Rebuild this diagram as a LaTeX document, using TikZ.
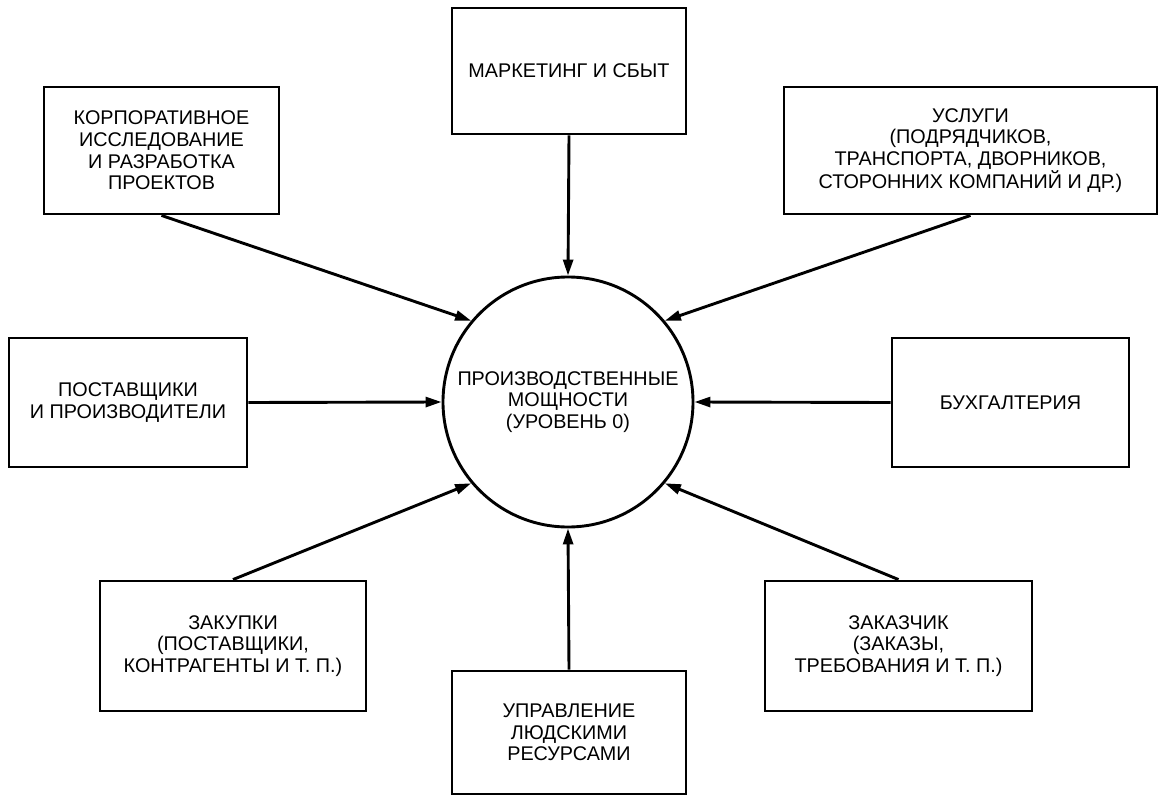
\documentclass[tikz,border=0pt]{standalone}
\usepackage{fontspec}
\setmainfont{Liberation Sans}
\usetikzlibrary{arrows.meta}
\begin{document}
\begin{tikzpicture}[x=1pt,y=-1pt,
  box/.style={draw,line width=2.9pt,rectangle,inner sep=0pt,align=center,
    font=\fontsize{19.8}{21.7}\selectfont},
  hub/.style={draw,line width=2.9pt,circle,inner sep=0pt,minimum size=250pt,align=center,
    font=\fontsize{19.8}{21.7}\selectfont},
  flow/.style={line width=2.9pt,-{Triangle[length=16pt,width=10pt]}}]
\useasboundingbox (0,0) rectangle (1161,797);
\node[hub] (c) at (568,402) {ПРОИЗВОДСТВЕННЫЕ\\МОЩНОСТИ\\(УРОВЕНЬ 0)};
\node[box,minimum width=234pt,minimum height=126pt] (mk) at (569,71) {МАРКЕТИНГ И СБЫТ};
\node[box,minimum width=235pt,minimum height=127pt] (rd) at (161.5,150.5) {КОРПОРАТИВНОЕ\\ИССЛЕДОВАНИЕ\\И РАЗРАБОТКА\\ПРОЕКТОВ};
\node[box,minimum width=373pt,minimum height=127pt] (sv) at (970.5,150.5) {УСЛУГИ\\(ПОДРЯДЧИКОВ,\\ТРАНСПОРТА, ДВОРНИКОВ,\\СТОРОННИХ КОМПАНИЙ И ДР.)};
\node[box,minimum width=238pt,minimum height=129pt] (sup) at (128,402.5) {ПОСТАВЩИКИ\\И ПРОИЗВОДИТЕЛИ};
\node[box,minimum width=237pt,minimum height=129pt] (acc) at (1010.5,402.5) {БУХГАЛТЕРИЯ};
\node[box,minimum width=266pt,minimum height=130pt] (pur) at (233,646) {ЗАКУПКИ\\(ПОСТАВЩИКИ,\\КОНТРАГЕНТЫ И Т. П.)};
\node[box,minimum width=267pt,minimum height=130pt] (cu) at (898.5,646) {ЗАКАЗЧИК\\(ЗАКАЗЫ,\\ТРЕБОВАНИЯ И Т. П.)};
\node[box,minimum width=234pt,minimum height=123pt] (hr) at (569,732.5) {УПРАВЛЕНИЕ\\ЛЮДСКИМИ\\РЕСУРСАМИ};
\draw[flow] (mk.south) -- (c.north);
\draw[flow] (rd.south) -- (c.140);
\draw[flow] (sv.south) -- (c.40);
\draw[flow] (sup.east) -- (c.west);
\draw[flow] (acc.west) -- (c.east);
\draw[flow] (pur.north) -- (c.220);
\draw[flow] (cu.north) -- (c.320);
\draw[flow] (hr.north) -- (c.south);
\end{tikzpicture}
\end{document}
